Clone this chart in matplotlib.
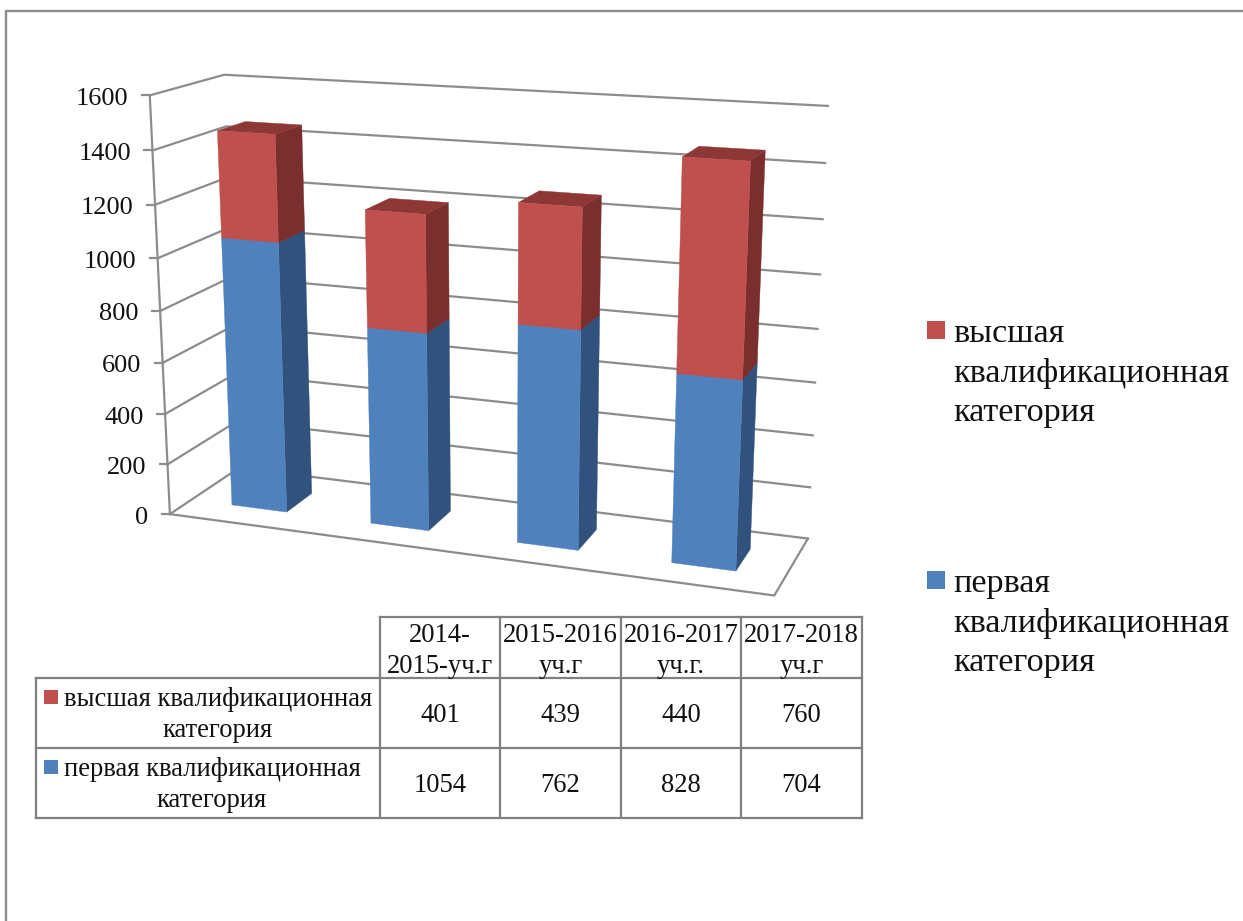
import numpy as np
import matplotlib
matplotlib.use("Agg")
import matplotlib.pyplot as plt
from matplotlib.patches import Polygon, Rectangle

periods = ["2014-2015-уч.г", "2015-2016 уч.г", "2016-2017 уч.г.", "2017-2018 уч.г"]
period_lines = [["2014-", "2015-уч.г"], ["2015-2016", "уч.г"], ["2016-2017", "уч.г."], ["2017-2018", "уч.г"]]
first_cat = [1054, 762, 828, 704]
top_cat = [401, 439, 440, 760]
name_first = "первая квалификационная категория"
name_top = "высшая квалификационная категория"
ticks = [0, 200, 400, 600, 800, 1000, 1200, 1400, 1600]

W, H = 1243, 921
plt.rcParams['font.family'] = ['Liberation Serif', 'DejaVu Serif']
fig = plt.figure(figsize=(W/100, H/100), dpi=100)
ax = fig.add_axes([0, 0, 1, 1])
ax.set_xlim(0, W); ax.set_ylim(H, 0); ax.axis('off')

GRID = '#8c8c8c'
VMAX = 1600.0
# frame of the 3D box: (x fraction, value fraction, depth) -> pixel
corners = [((0,0,0),(169,514)), ((0,1,0),(151,95)), ((0,0,1),(240,468)), ((0,1,1),(223,75)),
           ((1,0,1),(808,538)), ((1,1,1),(828,106)), ((1,0,0),(774,596))]
A, b = [], []
for (x,y,z),(u,v) in corners:
    A.append([x,y,z,1,0,0,0,0,-u*x,-u*y,-u*z]); b.append(u)
    A.append([0,0,0,0,x,y,z,1,-v*x,-v*y,-v*z]); b.append(v)
m = np.linalg.lstsq(np.array(A,float), np.array(b,float), rcond=None)[0]
M = np.append(m,1).reshape(3,4)
def proj(x, val, d):
    p = M @ np.array([x, val/VMAX, d, 1.0])
    return (p[0]/p[2], p[1]/p[2])

TXT = '#111111'
# outer frame
ax.plot([6.5,6.5,W],[H,11,11], color=GRID, lw=1.7, solid_capstyle='butt')

# walls
for t in ticks:
    a, c, e = proj(0,t,0), proj(0,t,1), proj(1,t,1)
    ax.plot([a[0],c[0],e[0]],[a[1],c[1],e[1]], color=GRID, lw=1.6)
    ax.plot([a[0]-8,a[0]],[a[1],a[1]], color=GRID, lw=1.6)
    ax.text(a[0]-21.5, a[1]+9.5, str(t), ha='right', va='baseline', fontsize=19, color=TXT)
p0, p1 = proj(0,0,0), proj(0,VMAX,0)
ax.plot([p0[0],p1[0]],[p0[1],p1[1]], color=GRID, lw=1.6)
pts = [proj(0,0,0), proj(1,0,0), proj(1,0,1)]
ax.plot(*zip(*pts), color=GRID, lw=1.6)

# bars
HALF = 0.050
D0, D1 = 0.30, 0.69
BLUE = ('#4F81BD', '#30527C', '#3A6190')
RED = ('#C0504D', '#7A2F2E', '#8E3836')
def box(i, v0, v1, cols, zo):
    c = (i+0.5)/len(periods)
    l, r = c-HALF, c+HALF
    side = [proj(r,v0,D0), proj(r,v0,D1), proj(r,v1,D1), proj(r,v1,D0)]
    top = [proj(l,v1,D0), proj(r,v1,D0), proj(r,v1,D1), proj(l,v1,D1)]
    front = [proj(l,v0,D0), proj(r,v0,D0), proj(r,v1,D0), proj(l,v1,D0)]
    for poly, col in ((side, cols[1]), (top, cols[2]), (front, cols[0])):
        ax.add_patch(Polygon(poly, closed=True, fc=col, ec=col, lw=0.3, zorder=zo))
for i in range(len(periods)):
    box(i, 0, first_cat[i], BLUE, 3)
    box(i, first_cat[i], first_cat[i]+top_cat[i], RED, 3)

# data table
TC = '#808080'
col_x = [380, 500, 621, 741, 862]
row_y = [617, 678, 748, 818]
left = 36
for x in col_x:
    ax.plot([x,x],[row_y[0],row_y[-1]], color=TC, lw=1.6, solid_capstyle='projecting')
ax.plot([left,left],[row_y[1],row_y[-1]], color=TC, lw=1.6, solid_capstyle='projecting')
ax.plot([col_x[0],col_x[-1]],[row_y[0]]*2, color=TC, lw=1.6)
for y in row_y[1:]:
    ax.plot([left,col_x[-1]],[y,y], color=TC, lw=1.6)
FS = 19.2
for j, lines in enumerate(period_lines):
    cx = (col_x[j]+col_x[j+1])/2
    ax.text(cx, 642, lines[0], ha='center', va='baseline', fontsize=FS, color=TXT)
    ax.text(cx, 673, lines[1], ha='center', va='baseline', fontsize=FS, color=TXT)
    ax.text(cx, 722, str(top_cat[j]), ha='center', va='baseline', fontsize=FS, color=TXT)
    ax.text(cx, 792, str(first_cat[j]), ha='center', va='baseline', fontsize=FS, color=TXT)
def two(name):
    i = name.rfind(' ')
    return name[:i], name[i+1:]
for name, col, y0, cx in ((name_top, RED[0], 690, 218), (name_first, BLUE[0], 760, 212)):
    a, c = two(name)
    ax.add_patch(Rectangle((44,y0),14,14, fc=col, ec='none'))
    ax.text(cx, y0+16, a, ha='center', va='baseline', fontsize=FS, color=TXT)
    ax.text(cx, y0+47, c, ha='center', va='baseline', fontsize=FS, color=TXT)

# legend
for name, col, ys in ((name_top, RED[0], 321), (name_first, BLUE[0], 571)):
    ax.add_patch(Rectangle((927,ys),18,18, fc=col, ec='none'))
    for k, s in enumerate(name.split(' ')):
        ax.text(953, ys+21+39.7*k, s, ha='left', va='baseline', fontsize=24.6, color=TXT)

fig.savefig('out.png', dpi=100, facecolor='white')
